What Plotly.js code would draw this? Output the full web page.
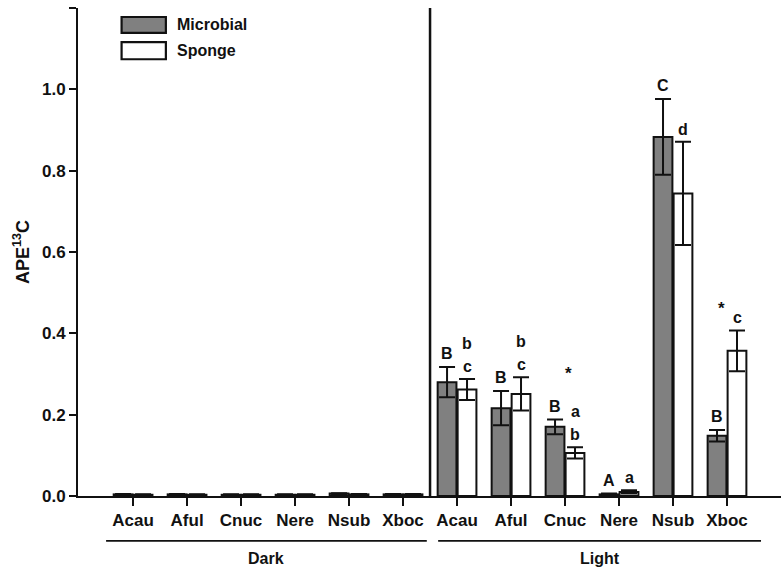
<!DOCTYPE html>
<html>
<head>
<meta charset="utf-8">
<script src="https://cdn.plot.ly/plotly-3.0.1.min.js"></script>
<style>html,body{margin:0;padding:0;background:#fff;}#chart{width:781px;height:568px;}</style>
</head>
<body>
<div id="chart"></div>
<script>
// ---- data ----
const species = ['Acau', 'Aful', 'Cnuc', 'Nere', 'Nsub', 'Xboc'];
const groups = ['Dark', 'Light'];
const seriesNames = ['Microbial', 'Sponge'];

const darkMicrobial    = [0.004, 0.004, 0.003, 0.003, 0.006, 0.004];
const darkMicrobialErr = [0.001, 0.001, 0.001, 0.001, 0.001, 0.001];
const darkSponge       = [0.003, 0.003, 0.003, 0.003, 0.004, 0.004];
const darkSpongeErr    = [0.001, 0.001, 0.001, 0.001, 0.001, 0.001];

const lightMicrobial    = [0.280, 0.216, 0.170, 0.004, 0.883, 0.148];
const lightMicrobialErr = [0.037, 0.042, 0.018, 0.002, 0.093, 0.014];
const lightSponge       = [0.262, 0.251, 0.106, 0.010, 0.744, 0.357];
const lightSpongeErr    = [0.026, 0.041, 0.014, 0.004, 0.127, 0.050];

const microbialLetters = ['B', 'B', 'B', 'A', 'C', 'B'];
const spongeLetters    = [['c', 'b'], ['c', 'b'], ['b', 'a'], ['a'], ['d'], ['c']];
const starFlags        = [false, false, true, false, false, true];

// ---- build ----
const n = species.length;
const xs = [];
for (let i = 0; i < 2 * n; i++) xs.push(i);
const tickText = species.concat(species);

const FONT = 'Liberation Sans, Arial, Helvetica, sans-serif';
const INK = '#111111';
const GREY = '#808080';

const traceM = {
  type: 'bar', name: seriesNames[0], x: xs,
  y: darkMicrobial.concat(lightMicrobial),
  marker: {color: GREY, line: {color: INK, width: 2}},
  error_y: {type: 'data', array: darkMicrobialErr.concat(lightMicrobialErr), visible: true,
            color: INK, thickness: 2, width: 8},
  showlegend: false, hoverinfo: 'x+y'
};
const traceS = {
  type: 'bar', name: seriesNames[1], x: xs,
  y: darkSponge.concat(lightSponge),
  marker: {color: '#ffffff', line: {color: INK, width: 2}},
  error_y: {type: 'data', array: darkSpongeErr.concat(lightSpongeErr), visible: true,
            color: INK, thickness: 2, width: 8},
  showlegend: false, hoverinfo: 'x+y'
};

const annFont = {family: FONT, size: 16, color: INK, weight: 'bold'};
const annotations = [];
const barOffset = 10; // px from group centre to each bar centre
for (let i = 0; i < n; i++) {
  const xi = n + i;
  const mTop = lightMicrobial[i] + lightMicrobialErr[i];
  const sTop = lightSponge[i] + lightSpongeErr[i];
  annotations.push({x: xi, y: mTop, xref: 'x', yref: 'y', text: microbialLetters[i],
    showarrow: false, xshift: -barOffset, yanchor: 'bottom', yshift: 3, font: annFont});
  spongeLetters[i].forEach((t, k) => {
    annotations.push({x: xi, y: sTop, xref: 'x', yref: 'y', text: t,
      showarrow: false, xshift: barOffset, yanchor: 'bottom', yshift: 2 + 23 * k, font: annFont});
  });
  if (starFlags[i]) {
    const nL = spongeLetters[i].length;
    annotations.push({x: xi, y: sTop, xref: 'x', yref: 'y', text: '*',
      showarrow: false, xshift: nL > 1 ? 3 : -6, yanchor: 'bottom',
      yshift: nL > 1 ? 62 : 10, font: {family: FONT, size: 17, color: INK, weight: 'bold'}});
  }
}

// group labels
const groupSpans = [[-0.5, n - 0.56], [n - 0.35, 2 * n - 0.37]];
const shapes = [];
groups.forEach((g, k) => {
  shapes.push({type: 'line', xref: 'x', yref: 'paper', x0: groupSpans[k][0], x1: groupSpans[k][1],
    y0: -0.092, y1: -0.092, line: {color: INK, width: 1.8}});
  annotations.push({x: (groupSpans[k][0] + groupSpans[k][1]) / 2, y: -0.128, xref: 'x', yref: 'paper',
    text: g, showarrow: false, yanchor: 'middle', font: {family: FONT, size: 16, color: INK, weight: 'bold'}});
});

// divider between Dark and Light
shapes.push({type: 'line', xref: 'x', yref: 'y', x0: n - 0.5, x1: n - 0.5, y0: 0, y1: 1.2,
  line: {color: INK, width: 2.5}});

// legend drawn manually to match the wide swatches
const legFill = [GREY, '#ffffff'];
const legY = [[0.949, 0.9816], [0.895, 0.930]];
seriesNames.forEach((s, k) => {
  shapes.push({type: 'rect', xref: 'paper', yref: 'paper', x0: 0.062, x1: 0.125,
    y0: legY[k][0], y1: legY[k][1], fillcolor: legFill[k], line: {color: INK, width: 2.2}});
  annotations.push({x: 0.138, y: (legY[k][0] + legY[k][1]) / 2, xref: 'paper', yref: 'paper',
    text: s, showarrow: false, xanchor: 'left', yanchor: 'middle',
    font: {family: FONT, size: 16, color: INK, weight: 'bold'}});
});

const layout = {
  width: 781, height: 568,
  margin: {l: 78, r: 0, t: 8, b: 72},
  paper_bgcolor: '#ffffff', plot_bgcolor: '#ffffff',
  barmode: 'group', bargap: 0.26, bargroupgap: 0.06,
  showlegend: false,
  font: {family: FONT, color: INK},
  xaxis: {
    range: [-1.02, 12.0], tickmode: 'array', tickvals: xs, ticktext: tickText,
    showline: true, linecolor: INK, linewidth: 2, ticks: 'outside', ticklen: 8, tickwidth: 1.8,
    tickcolor: INK, showgrid: false, zeroline: false,
    tickfont: {family: FONT, size: 17, color: INK, weight: 'bold'}
  },
  yaxis: {
    range: [0, 1.2], dtick: 0.2, tickformat: '.1f',
    showline: true, linecolor: INK, linewidth: 2, ticks: 'outside', ticklen: 7, tickwidth: 2,
    tickcolor: INK, showgrid: false, zeroline: false,
    tickfont: {family: FONT, size: 17, color: INK, weight: 'bold'},
    title: {text: 'APE<sup>13</sup>C', standoff: 8,
            font: {family: FONT, size: 18, color: INK, weight: 'bold'}}
  },
  annotations: annotations,
  shapes: shapes
};

Plotly.newPlot('chart', [traceM, traceS], layout, {displayModeBar: false, staticPlot: true});
</script>
</body>
</html>
